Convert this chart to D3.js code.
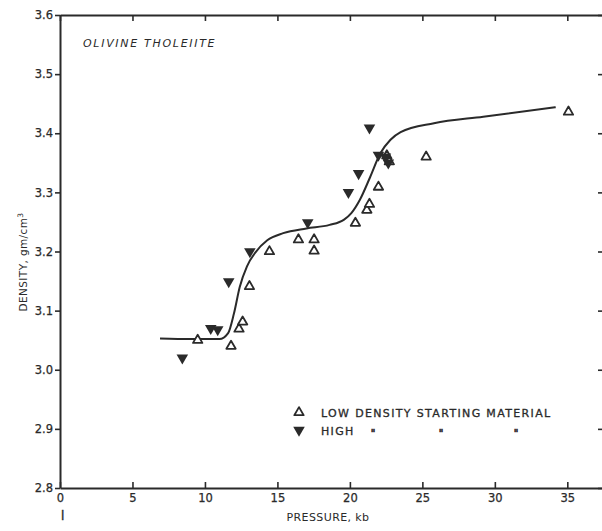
<!DOCTYPE html>
<html><head><meta charset="utf-8">
<script src="https://cdn.jsdelivr.net/npm/d3@7"></script>
<style>
html,body{margin:0;padding:0;background:#fff;}
text{font-family:"DejaVu Sans",sans-serif;fill:#2a2a2a;}
</style></head>
<body>
<script>
// ---- data ----
const xTicks = [0,5,10,15,20,25,30,35];
const yTicks = [2.8,2.9,3.0,3.1,3.2,3.3,3.4,3.5,3.6];
const lowPressure = [9.5, 11.8, 12.35, 12.6, 13.07, 14.45, 16.45, 17.53, 17.53, 20.38, 21.17, 21.35, 21.97, 22.55, 22.72, 25.26, 35.08];
const lowDensity  = [3.05, 3.04, 3.069, 3.081, 3.141, 3.20, 3.22, 3.22, 3.201, 3.248, 3.27, 3.28, 3.309, 3.362, 3.352, 3.36, 3.436];
const highPressure = [8.44, 10.4, 10.88, 11.64, 13.1, 17.09, 19.9, 20.6, 21.35, 21.97, 22.45, 22.65];
const highDensity  = [3.02, 3.07, 3.068, 3.149, 3.2, 3.249, 3.30, 3.332, 3.409, 3.363, 3.36, 3.35];
const curvePressure = [6.9, 9, 11, 11.6, 12.0, 12.4, 12.9, 13.5, 14.3, 15.4, 17, 18.6, 19.6, 20.1, 20.7, 21.4, 22.1, 22.8, 23.5, 25.8, 29.2, 34.2];
const curveDensity  = [3.053, 3.052, 3.052, 3.062, 3.095, 3.14, 3.175, 3.199, 3.219, 3.231, 3.239, 3.245, 3.254, 3.265, 3.288, 3.326, 3.366, 3.389, 3.402, 3.417, 3.428, 3.444];

const W = 602, H = 531;
const svg = d3.select("body").append("svg").attr("width", W).attr("height", H);
const x = d3.scaleLinear().domain([0, 37.6]).range([60, 605]);
const y = d3.scaleLinear().domain([2.8, 3.6]).range([488, 15]);
const ink = "#2a2a2a";

function styleAxis(g){
  g.select(".domain").attr("stroke", ink).attr("stroke-width", 2);
  g.selectAll(".tick line").attr("stroke", ink).attr("stroke-width", 1.6);
  g.selectAll("text").attr("font-size", 11.5).attr("fill", ink).attr("font-family", "DejaVu Sans, sans-serif")
    .attr("stroke", ink).attr("stroke-width", 0.25);
}

svg.append("g").attr("transform", "translate(0,488)")
  .call(d3.axisBottom(x).tickValues(xTicks).tickSizeInner(-6).tickSizeOuter(0).tickPadding(6).tickFormat(d3.format("d")))
  .call(styleAxis);
svg.append("g").attr("transform", "translate(0,15)")
  .call(d3.axisTop(x).tickValues(xTicks).tickSizeInner(-6).tickSizeOuter(0).tickFormat(""))
  .call(styleAxis);
svg.append("g").attr("transform", "translate(60,0)")
  .call(d3.axisLeft(y).tickValues(yTicks).tickSizeInner(5).tickSizeOuter(0).tickPadding(2).tickFormat(d3.format(".1f")))
  .call(styleAxis);
svg.append("g").attr("transform", "translate(604,0)")
  .call(d3.axisRight(y).tickValues(yTicks).tickSizeInner(-6).tickSizeOuter(0).tickFormat(""))
  .call(styleAxis);

// curve
const curvePts = curvePressure.map((p,i)=>[p, curveDensity[i]]);
svg.append("path").datum(curvePts)
  .attr("d", d3.line().x(d=>x(d[0])).y(d=>y(d[1])).curve(d3.curveMonotoneX))
  .attr("fill","none").attr("stroke", ink).attr("stroke-width", 2);

const triUp = d3.symbol().type(d3.symbolTriangle).size(38);
const triDn = d3.symbol().type(d3.symbolTriangle).size(58);

svg.append("g").selectAll("path").data(lowPressure.map((p,i)=>[p, lowDensity[i]])).join("path")
  .attr("d", triUp).attr("transform", d=>`translate(${x(d[0])},${y(d[1])})`)
  .attr("fill","#fff").attr("stroke", ink).attr("stroke-width", 1.8).attr("stroke-linejoin","round");
svg.append("g").selectAll("path").data(highPressure.map((p,i)=>[p, highDensity[i]])).join("path")
  .attr("d", triDn).attr("transform", d=>`translate(${x(d[0])},${y(d[1])}) rotate(180)`)
  .attr("fill", ink);

// legend
svg.append("path").attr("d", triUp).attr("transform","translate(299,412.5)")
  .attr("fill","#fff").attr("stroke", ink).attr("stroke-width", 1.8).attr("stroke-linejoin","round");
svg.append("path").attr("d", triDn).attr("transform","translate(299,430) rotate(180)").attr("fill", ink);
svg.append("text").attr("x", 321).attr("y", 416.5).attr("font-size", 11).attr("letter-spacing", 1.35)
  .attr("stroke", ink).attr("stroke-width", 0.3)
  .text("LOW DENSITY STARTING MATERIAL");
svg.append("text").attr("x", 321).attr("y", 435).attr("font-size", 11).attr("letter-spacing", 1.35)
  .attr("stroke", ink).attr("stroke-width", 0.3).text("HIGH");
[373, 441, 516].forEach(px => svg.append("text").attr("x", px).attr("y", 437).attr("font-size", 10)
  .attr("text-anchor","middle").attr("fill", ink).attr("stroke", ink).attr("stroke-width", 0.6).text("\""));

// title
svg.append("text").attr("x", 83).attr("y", 47).attr("font-size", 11).attr("font-style","italic").attr("letter-spacing", 1.7)
  .text("OLIVINE THOLEIITE");

// axis titles
svg.append("text").attr("x", 328).attr("y", 521).attr("font-size", 11).attr("text-anchor","middle").attr("letter-spacing", 0.4)
  .text("PRESSURE, kb");
const yl = svg.append("text").attr("transform","translate(27,262) rotate(-90)").attr("font-size", 10.5).attr("text-anchor","middle").attr("letter-spacing", 0.4);
yl.append("tspan").text("DENSITY, gm/cm");
yl.append("tspan").attr("font-size", 7.5).attr("dy", -4).text("3");
svg.append("text").attr("x", 61).attr("y", 520).attr("font-size", 12).attr("stroke", ink).attr("stroke-width", 0.4).text("l");
</script>
</body></html>
